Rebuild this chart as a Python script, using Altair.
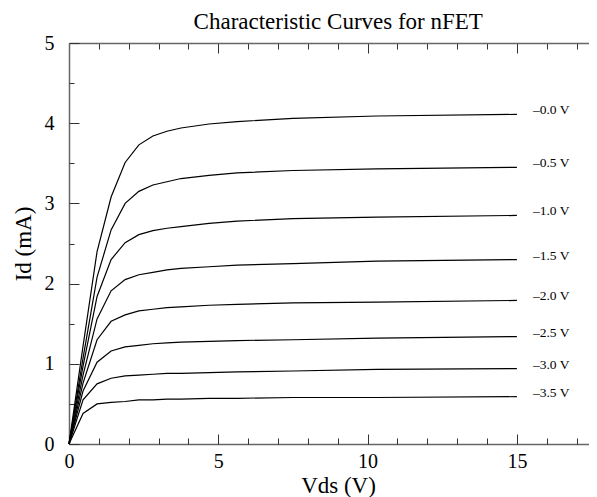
import altair as alt
import pandas as pd

# Drain-source voltage samples (V)
vds = [0, 0.47, 0.94, 1.41, 1.88, 2.34, 2.81, 3.28, 3.75, 4.69, 5.63, 7.5, 10.31, 15]

# Gate voltage labels
gate_labels = ["–0.0 V", "–0.5 V", "–1.0 V", "–1.5 V", "–2.0 V", "–2.5 V", "–3.0 V", "–3.5 V"]

# Drain current (mA) for each gate voltage
id_00 = [0, 1.22, 2.40, 3.08, 3.51, 3.73, 3.84, 3.90, 3.94, 3.99, 4.02, 4.06, 4.09, 4.11]
id_05 = [0, 1.07, 2.08, 2.67, 3.00, 3.15, 3.23, 3.27, 3.31, 3.35, 3.38, 3.41, 3.43, 3.45]
id_10 = [0, 0.97, 1.84, 2.30, 2.51, 2.61, 2.66, 2.69, 2.71, 2.75, 2.78, 2.81, 2.83, 2.85]
id_15 = [0, 0.86, 1.56, 1.91, 2.05, 2.11, 2.14, 2.17, 2.19, 2.21, 2.23, 2.25, 2.28, 2.30]
id_20 = [0, 0.76, 1.30, 1.53, 1.61, 1.66, 1.68, 1.70, 1.71, 1.73, 1.74, 1.76, 1.77, 1.79]
id_25 = [0, 0.66, 1.02, 1.16, 1.21, 1.23, 1.25, 1.26, 1.27, 1.28, 1.29, 1.30, 1.32, 1.34]
id_30 = [0, 0.55, 0.75, 0.82, 0.85, 0.86, 0.87, 0.88, 0.88, 0.89, 0.90, 0.91, 0.93, 0.94]
id_35 = [0, 0.38, 0.50, 0.52, 0.53, 0.55, 0.55, 0.56, 0.56, 0.57, 0.57, 0.58, 0.58, 0.59]

x_ticks = list(range(0, 19))
x_labels = [0, 5, 10, 15]
y_ticks = [0, 0.5, 1, 1.5, 2, 2.5, 3, 3.5, 4, 4.5, 5]
y_labels = [0, 1, 2, 3, 4, 5]

TITLE = "Characteristic Curves for nFET"

curves = [id_00, id_05, id_10, id_15, id_20, id_25, id_30, id_35]
rows = []
for lab, ys in zip(gate_labels, curves):
    for xv, yv in zip(vds, ys):
        rows.append({"vds": xv, "id": yv, "vgs": lab})
df = pd.DataFrame(rows)
ends = pd.DataFrame({"vds": [vds[-1]] * len(curves),
                     "id": [c[-1] for c in curves],
                     "vgs": gate_labels})

FONT = "Liberation Serif"
W, H = 520, 401          # visible plot area (svg stays inside the window)
X_END = 537.5            # full 0..18 axis length; the rest is cut at the page edge

xs = alt.Scale(domain=[0, 18], range=[0, X_END], nice=False, zero=False)
ysc = alt.Scale(domain=[0, 5], nice=False, zero=False)

tick_x = {"condition": {"test": "datum.value % 5 === 0", "value": 10}, "value": 6}
tick_y = {"condition": {"test": "datum.value % 1 === 0", "value": 10}, "value": 5}

AX_COLOR = "#666666"
TICK_COLOR = "#333333"

lines = alt.Chart(df).mark_line(color="black", strokeWidth=1.2).encode(
    x=alt.X("vds:Q", scale=xs, axis=alt.Axis(
        orient="bottom", values=x_labels, ticks=False, tickSize=0,
        labelPadding=7, labelFontSize=20, labelFont=FONT, labelColor="black",
        labelFlush=False, labelOverlap=False,
        title="Vds (V)", titleFont=FONT, titleFontSize=23, titleFontWeight="normal",
        titleColor="black", titleX=269, titleY=48, titleBaseline="alphabetic",
        titleAlign="center", domainColor=AX_COLOR, domainWidth=1.5)),
    y=alt.Y("id:Q", scale=ysc, axis=alt.Axis(
        orient="left", values=y_labels, ticks=False, tickSize=0,
        labelPadding=15, labelFontSize=20, labelFont=FONT, labelColor="black",
        labelFlush=False, labelOverlap=False,
        title="Id (mA)", titleFont=FONT, titleFontSize=23, titleFontWeight="normal",
        titleColor="black", titleX=-39, titleY=200.5, titleBaseline="alphabetic",
        titleAlign="center", titleAngle=270, domainColor=AX_COLOR, domainWidth=1.5)),
    detail="vgs:N",
)

texts = alt.Chart(ends).mark_text(
    align="left", baseline="alphabetic", dx=16, font=FONT, fontSize=13.5, color="black"
).encode(
    x=alt.X("vds:Q", scale=xs, axis=alt.Axis(
        orient="top", offset=-H, values=x_ticks, labels=False, domain=False,
        tickSize=tick_x, tickColor=TICK_COLOR, title="")),
    y=alt.Y("id:Q", scale=ysc, axis=alt.Axis(
        orient="right", offset=-W, values=y_ticks, labels=False, domain=False,
        tickSize=tick_y, tickColor=TICK_COLOR, title="")),
    text="vgs:N",
)

# top frame edge: ticks + line, and the chart title carried as this axis' title
frame = alt.Chart(ends).mark_point(opacity=0).encode(
    x=alt.X("vds:Q", scale=xs, axis=alt.Axis(
        orient="bottom", offset=-H, values=x_ticks, labels=False,
        tickSize=tick_x, tickColor=TICK_COLOR, domainColor=AX_COLOR,
        domainWidth=1.5, title=TITLE, titleFont=FONT, titleFontSize=23,
        titleFontWeight="normal", titleColor="black", titleX=268.75,
        titleY=-14.7, titleBaseline="alphabetic", titleAlign="center",
        titleAngle=0)),
)

chart = alt.layer(lines, texts, frame).resolve_axis(
    x="independent", y="independent"
).properties(
    width=W, height=H,
    autosize=alt.AutoSizeParams(type="none"),
    padding={"left": 61, "top": 35, "right": 0, "bottom": 53},
).configure_axis(grid=False).configure_view(strokeOpacity=0)

chart.save("out.html", embed_options={"renderer": "svg", "actions": False})
